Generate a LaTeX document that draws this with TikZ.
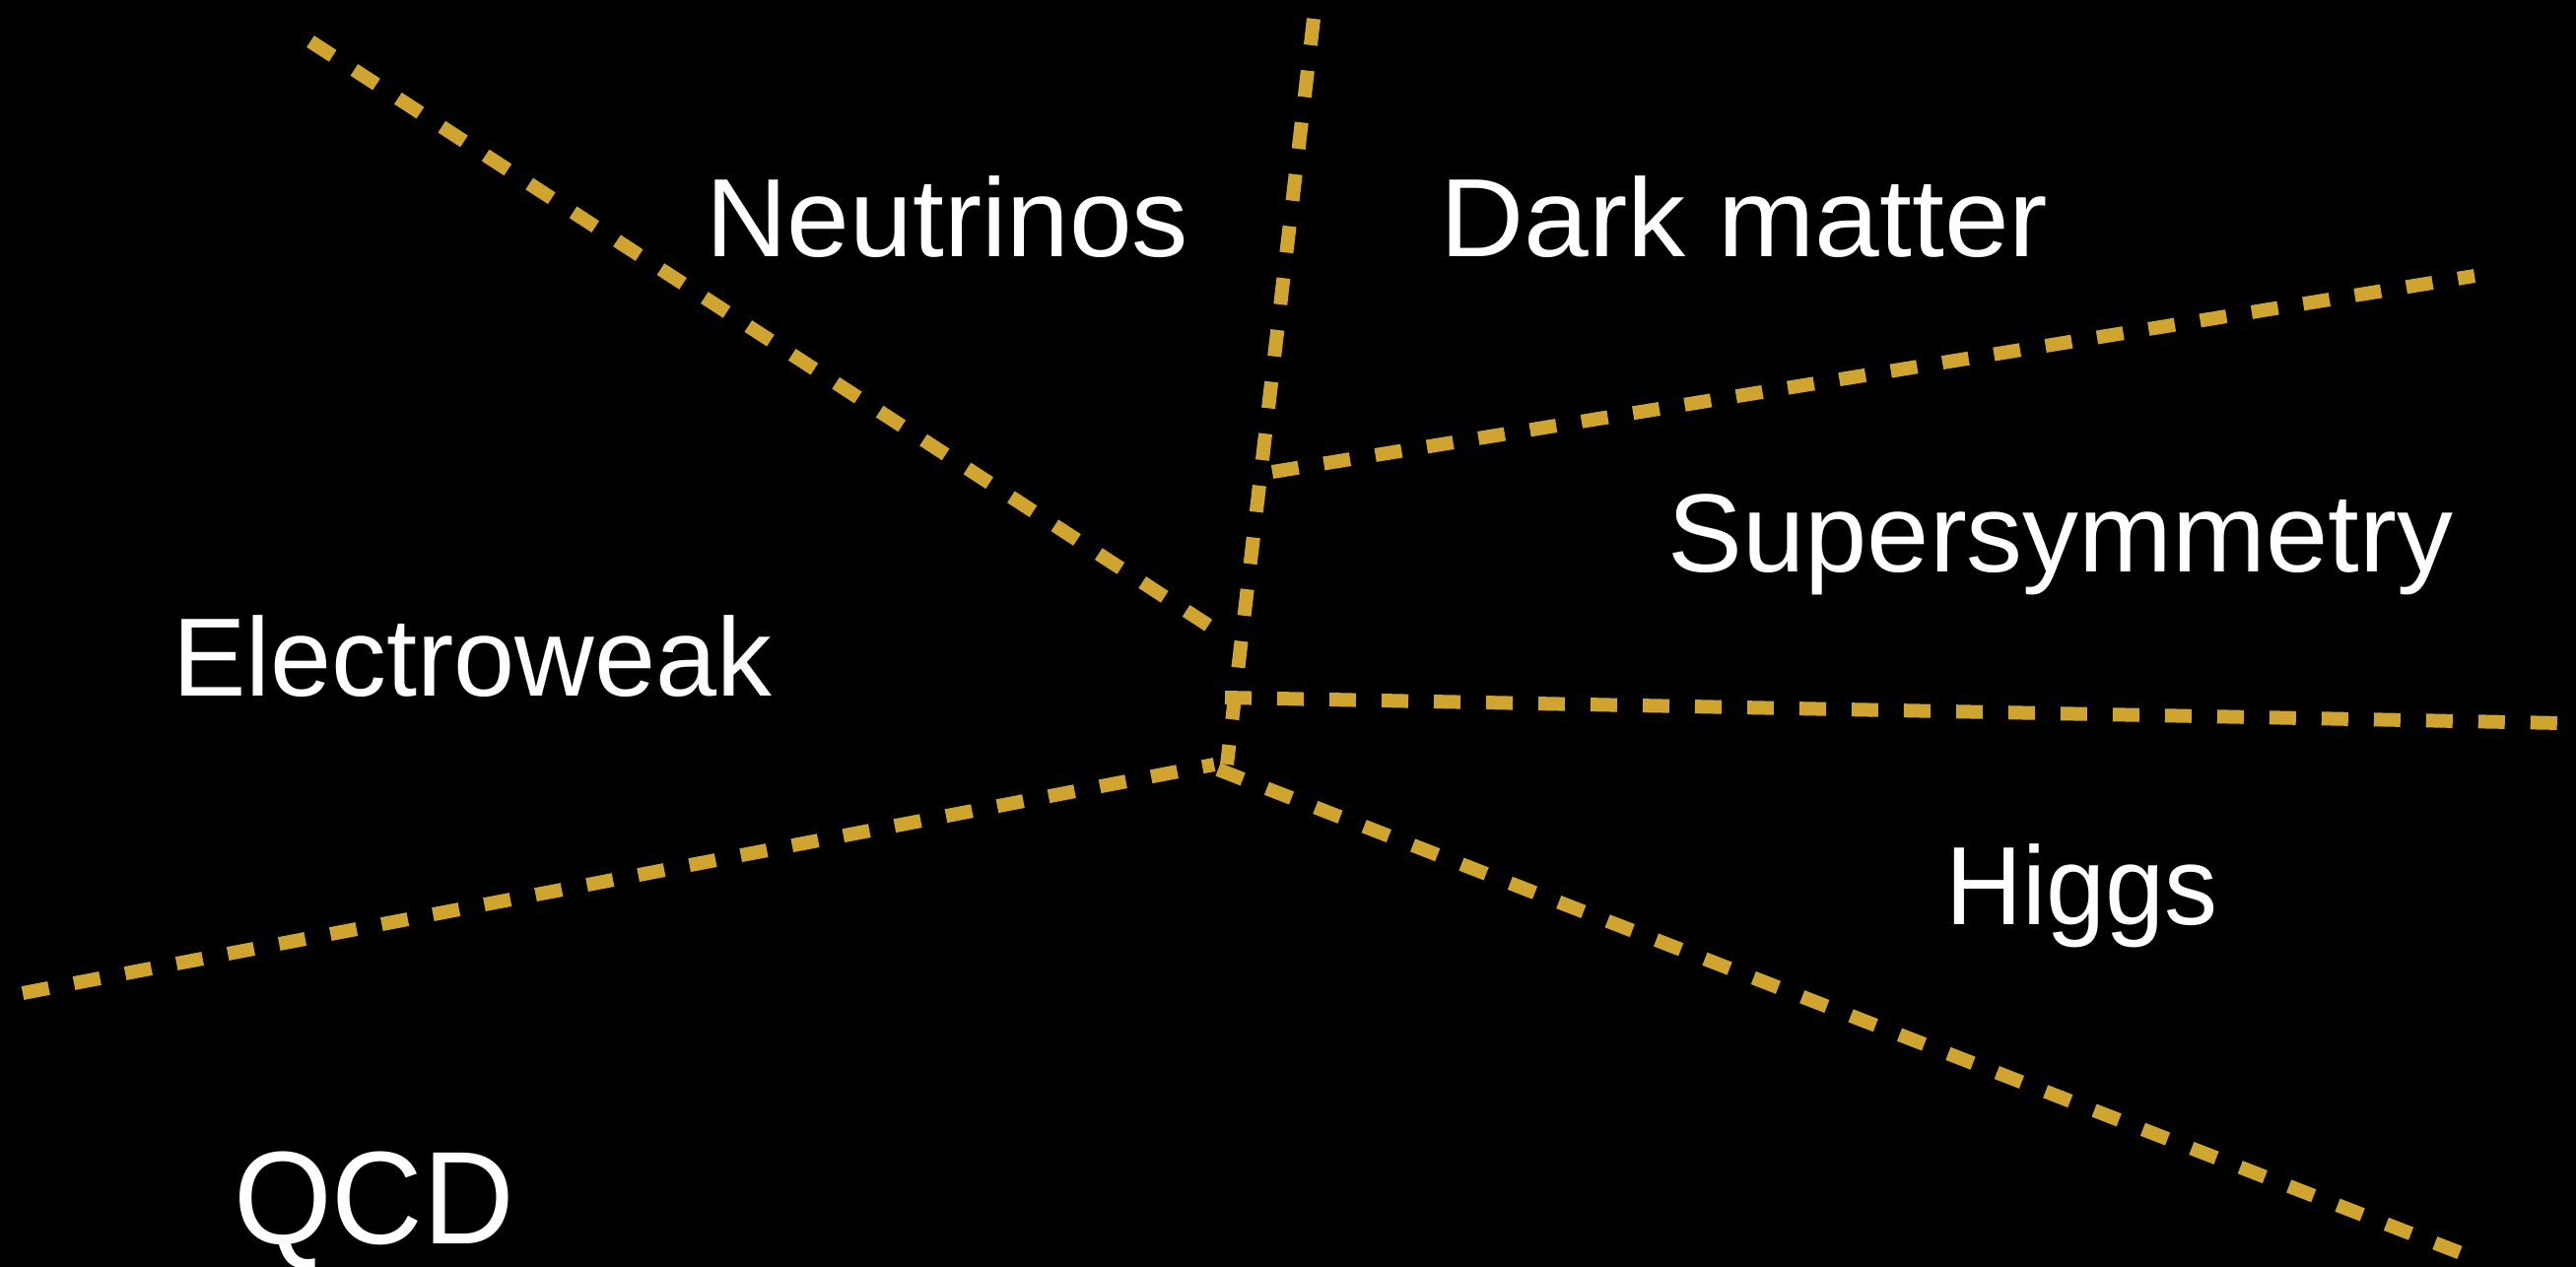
\documentclass[tikz,border=0pt]{standalone}
\usepackage{fontspec}
\setmainfont{Liberation Sans}
\usepackage{graphicx}
\newcommand\fitw[2]{\resizebox{#1}{\height}{#2}}
\definecolor{gold}{RGB}{207,165,48}
\tikzset{
  fline/.style={draw=gold, line width=14pt, dash pattern=on 27pt off 26pt},
  lbl/.style={text=white, inner sep=0pt, anchor=base west, font=\fontsize{113}{120}\selectfont},
  biglbl/.style={lbl, font=\fontsize{134}{144}\selectfont}
}
\begin{document}
\begin{tikzpicture}[x=1pt,y=-1pt]
\useasboundingbox (0,0) rectangle (2614,1285);
\fill[black] (-10,-10) rectangle (2624,1295);
% line end points
\coordinate (nu1) at (315,42);   \coordinate (nu2) at (1236,641);
\coordinate (v1)  at (1333,19);  \coordinate (v2)  at (1245,776);
\coordinate (dm1) at (1291,479); \coordinate (dm2) at (2511,280);
\coordinate (hz1) at (1243,708); \coordinate (hz2) at (2601,734);
\coordinate (ew1) at (23,1008);  \coordinate (ew2) at (1232,776);
\coordinate (hg1) at (1236,781); \coordinate (hg2) at (2513,1278);
\draw[fline] (nu1) -- (nu2);
\draw[fline] (v1) -- (v2);
\draw[fline] (dm1) -- (dm2);
\draw[fline] (hz1) -- (hz2);
\draw[fline] (ew1) -- (ew2);
\draw[fline] (hg1) -- (hg2);
% labels
\node[lbl] (neutrinos) at (716,260) {\fitw{490pt}{Neutrinos}};
\node[lbl] (darkmatter) at (1461,260) {\fitw{617pt}{Dark matter}};
\node[lbl] (susy) at (1692,580) {\fitw{797pt}{Supersymmetry}};
\node[lbl] (electroweak) at (175,706) {\fitw{608pt}{Electroweak}};
\node[lbl] (higgs) at (1974,938) {\fitw{276pt}{Higgs}};
\node[biglbl] (qcd) at (237,1262) {\fitw{285pt}{QCD}};
\end{tikzpicture}
\end{document}
